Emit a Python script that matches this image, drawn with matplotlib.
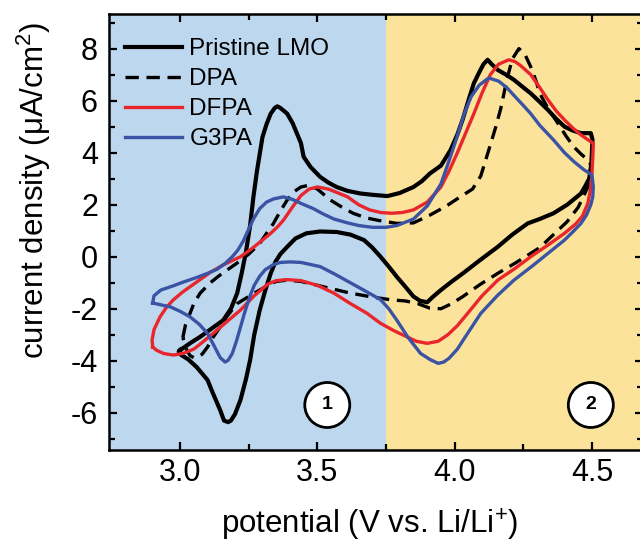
import matplotlib
matplotlib.use("Agg")
import matplotlib.pyplot as plt

plt.rcParams['font.family'] = ['Liberation Sans', 'DejaVu Sans']
plt.rcParams['mathtext.fontset'] = 'custom'
plt.rcParams['mathtext.rm'] = 'Liberation Sans'
plt.rcParams['mathtext.it'] = 'Liberation Sans:italic'

# ---------------- data ----------------
pristine_x = [3.00, 3.04, 3.073, 3.11, 3.157, 3.185, 3.208, 3.225, 3.24, 3.255, 3.267, 3.28, 3.30, 3.315,
              3.33, 3.345, 3.354, 3.365, 3.39, 3.41, 3.44, 3.45, 3.475, 3.51, 3.54, 3.57, 3.61, 3.657,
              3.70, 3.755, 3.80, 3.85, 3.88, 3.91, 3.95, 3.985, 4.01, 4.03, 4.05, 4.07, 4.09, 4.105,
              4.12, 4.135, 4.157, 4.19, 4.216, 4.245, 4.277, 4.31, 4.34, 4.37, 4.40, 4.43, 4.46, 4.496,
              4.502,
              4.498, 4.49, 4.475, 4.46, 4.41, 4.36, 4.31, 4.266, 4.21, 4.157, 4.09, 4.03, 3.99, 3.95,
              3.92, 3.90, 3.875, 3.85, 3.82, 3.79, 3.76, 3.73, 3.70, 3.67, 3.62, 3.57, 3.51, 3.46, 3.42,
              3.39, 3.365, 3.347, 3.33, 3.31, 3.29, 3.27, 3.255, 3.24, 3.22, 3.20, 3.185, 3.175, 3.16,
              3.146, 3.12, 3.10, 3.06, 3.03, 3.00, 2.995, 3.00]
pristine_y = [-3.59, -3.30, -3.08, -2.80, -2.44, -2.00, -1.40, -0.60, 0.20, 1.20, 2.30, 3.30, 4.60, 5.10,
              5.50, 5.72, 5.78, 5.72, 5.50, 5.13, 4.37, 3.84, 3.45, 3.07, 2.85, 2.68, 2.53, 2.43,
              2.38, 2.33, 2.45, 2.68, 2.90, 3.20, 3.50, 4.10, 4.70, 5.30, 6.00, 6.67, 7.10, 7.40,
              7.57, 7.40, 7.18, 6.98, 6.80, 6.55, 6.28, 5.95, 5.64, 5.30, 5.00, 4.85, 4.75, 4.75,
              4.50,
              3.60, 3.00, 2.70, 2.43, 2.00, 1.67, 1.45, 1.28, 0.85, 0.38, -0.15, -0.64, -0.95, -1.28,
              -1.55, -1.75, -1.70, -1.53, -1.15, -0.78, -0.38, 0.00, 0.35, 0.64, 0.85, 0.95, 0.97, 0.90, 0.70,
              0.38, 0.10, -0.20, -0.64, -1.30, -2.05, -3.00, -3.97, -4.70, -5.50, -6.05, -6.30, -6.36, -6.30,
              -5.90, -5.26, -4.74, -4.24, -3.95, -3.75, -3.65, -3.59]

dpa_x = [3.01, 3.02, 3.036, 3.05, 3.073, 3.11, 3.146, 3.208, 3.25, 3.29, 3.315, 3.34, 3.365, 3.39, 3.415,
         3.44, 3.47, 3.50, 3.547, 3.59, 3.63, 3.675, 3.72, 3.79, 3.85, 3.91, 3.97, 4.02, 4.065, 4.095,
         4.13, 4.15, 4.168, 4.19, 4.21, 4.234, 4.255, 4.277, 4.295, 4.31, 4.34, 4.376, 4.405, 4.434,
         4.46, 4.485, 4.498,
         4.495, 4.475, 4.45, 4.41, 4.36, 4.31, 4.277, 4.22, 4.157, 4.095, 4.03, 3.99, 3.95, 3.91,
         3.865, 3.82, 3.77, 3.70, 3.62, 3.56, 3.50, 3.44, 3.39, 3.35, 3.32, 3.27, 3.208, 3.17, 3.146,
         3.12, 3.10, 3.08, 3.066, 3.05, 3.036, 3.02, 3.01]
dpa_y = [-3.10, -2.60, -2.18, -1.80, -1.40, -1.00, -0.70, -0.24, 0.10, 0.51, 0.90, 1.28, 1.75, 2.18, 2.50,
         2.68, 2.75, 2.60, 2.18, 1.90, 1.67, 1.50, 1.40, 1.28, 1.30, 1.60, 1.95, 2.30, 2.60, 3.10,
         4.30, 5.00, 5.70, 6.80, 7.60, 8.00, 7.80, 7.30, 6.80, 6.28, 5.70, 5.13, 4.65, 4.22,
         3.95, 3.72, 3.50,
         2.90, 2.45, 1.90, 1.35, 0.85, 0.35, 0.13, -0.25, -0.64, -1.05, -1.53, -1.80, -2.00, -1.98,
         -1.80, -1.70, -1.66, -1.55, -1.40, -1.25, -1.10, -0.95, -0.90, -0.95, -1.10, -1.40, -1.80, -2.30, -2.70,
         -3.10, -3.47, -3.75, -3.85, -3.88, -3.80, -3.50, -3.10]

dfpa_x = [2.90, 2.898, 2.905, 2.927, 2.95, 2.975, 3.01, 3.05, 3.11, 3.16, 3.22, 3.26, 3.30, 3.33, 3.355,
          3.376, 3.41, 3.44, 3.47, 3.50, 3.54, 3.58, 3.61, 3.65, 3.69, 3.73, 3.77, 3.81, 3.85, 3.90,
          3.95, 3.98, 4.01, 4.04, 4.07, 4.10, 4.13, 4.16, 4.197, 4.22, 4.24, 4.277, 4.31, 4.34, 4.37,
          4.40, 4.43, 4.46, 4.485, 4.505,
          4.503, 4.50, 4.495, 4.485, 4.465, 4.44, 4.40, 4.34, 4.277, 4.22, 4.157, 4.10, 4.047, 4.01,
          3.975, 3.94, 3.90, 3.86, 3.83, 3.78, 3.73, 3.68, 3.62, 3.56, 3.50, 3.44, 3.39, 3.35, 3.32,
          3.27, 3.22, 3.17, 3.12, 3.08, 3.05, 3.01, 2.975, 2.94, 2.915, 2.90]
dfpa_y = [-3.47, -3.20, -2.80, -2.31, -1.95, -1.66, -1.35, -1.05, -0.60, -0.30, 0.00, 0.30, 0.64, 0.90, 1.15,
          1.40, 1.92, 2.35, 2.60, 2.68, 2.60, 2.43, 2.30, 2.00, 1.80, 1.70, 1.67, 1.70, 1.80, 2.10,
          2.68, 3.30, 4.00, 4.75, 5.50, 6.30, 7.00, 7.40, 7.57, 7.50, 7.35, 7.00, 6.50, 6.03, 5.60,
          5.26, 4.95, 4.68, 4.50, 4.36,
          3.80, 3.20, 2.60, 2.05, 1.55, 1.25, 0.90, 0.45, 0.00, -0.45, -0.90, -1.50, -2.18, -2.65,
          -3.00, -3.25, -3.33, -3.25, -3.10, -2.85, -2.56, -2.17, -1.80, -1.40, -1.10, -0.92, -0.88, -0.92, -1.05,
          -1.50, -2.05, -2.50, -2.95, -3.30, -3.55, -3.72, -3.78, -3.72, -3.60, -3.47]

g3pa_x = [2.90, 2.905, 2.93, 2.975, 3.01, 3.06, 3.10, 3.135, 3.165, 3.19, 3.21, 3.23, 3.245, 3.267, 3.29,
          3.315, 3.34, 3.376, 3.41, 3.44, 3.485, 3.52, 3.56, 3.61, 3.65, 3.70, 3.75, 3.79, 3.85, 3.90,
          3.95, 3.98, 4.01, 4.035, 4.06, 4.09, 4.124, 4.16, 4.19, 4.216, 4.247, 4.277, 4.31, 4.36,
          4.40, 4.435, 4.47, 4.50,
          4.505, 4.503, 4.496, 4.48, 4.46, 4.43, 4.40, 4.34, 4.28, 4.216, 4.155, 4.095, 4.05, 4.01,
          3.98, 3.96, 3.94, 3.91, 3.876, 3.83, 3.79, 3.76, 3.73, 3.68, 3.62, 3.56, 3.51, 3.44, 3.40,
          3.365, 3.34, 3.31, 3.29, 3.27, 3.255, 3.235, 3.22, 3.205, 3.19, 3.175, 3.164, 3.146, 3.125,
          3.10, 3.07, 3.036, 3.00, 2.965, 2.93, 2.90]
g3pa_y = [-1.78, -1.50, -1.28, -1.12, -0.98, -0.80, -0.64, -0.48, -0.25, 0.00, 0.25, 0.60, 0.95, 1.45, 1.85,
          2.10, 2.22, 2.30, 2.20, 2.05, 1.85, 1.65, 1.45, 1.30, 1.20, 1.13, 1.13, 1.20, 1.45, 1.95,
          2.80, 3.70, 4.65, 5.50, 6.15, 6.60, 6.87, 6.75, 6.50, 6.20, 5.85, 5.50, 5.05, 4.49,
          4.00, 3.65, 3.35, 3.14,
          2.70, 2.30, 2.00, 1.60, 1.28, 0.95, 0.64, 0.13, -0.38, -0.90, -1.50, -2.18, -2.90, -3.55,
          -3.90, -4.05, -4.10, -3.95, -3.72, -3.10, -2.45, -2.00, -1.65, -1.35, -1.00, -0.65, -0.38, -0.22, -0.20,
          -0.22, -0.30, -0.50, -0.75, -1.10, -1.50, -2.15, -2.70, -3.25, -3.72, -3.98, -4.05, -3.88, -3.45,
          -2.95, -2.60, -2.31, -2.10, -1.93, -1.85, -1.78]

series_labels = ["Pristine LMO", "DPA", "DFPA", "G3PA"]
region_labels = ["1", "2"]
region_boundary = 3.75

# ---------------- figure ----------------
W, H = 640, 542
fig = plt.figure(figsize=(W / 100, H / 100), dpi=100)
ax = fig.add_axes([109 / W, 92 / H, (643 - 109) / W, 436 / H])

xlim = (2.741, 4.686)
ylim = (-7.43, 9.33)
ax.axvspan(xlim[0], region_boundary, color="#BDD7EE", lw=0, zorder=0)
ax.axvspan(region_boundary, xlim[1], color="#FCE39C", lw=0, zorder=0)

ax.plot(pristine_x, pristine_y, color="black", lw=3.0, label=series_labels[0], zorder=3,
        solid_joinstyle="round")
ax.plot(dpa_x, dpa_y, color="black", lw=2.4, dashes=(4.0, 2.3), label=series_labels[1], zorder=3)
ax.plot(dfpa_x, dfpa_y, color="#E8262B", lw=2.4, label=series_labels[2], zorder=3,
        solid_joinstyle="round")
ax.plot(g3pa_x, g3pa_y, color="#3A53A4", lw=2.4, label=series_labels[3], zorder=3,
        solid_joinstyle="round")

ax.set_xlim(*xlim)
ax.set_ylim(*ylim)
ax.set_xticks([3.0, 3.5, 4.0, 4.5])
ax.set_xticks([3.25, 3.75, 4.25], minor=True)
ax.set_yticks([-6, -4, -2, 0, 2, 4, 6, 8])
ax.set_yticks([-7, -5, -3, -1, 1, 3, 5, 7, 9], minor=True)
ax.set_xticklabels(["3.0", "3.5", "4.0", "4.5"])
ax.set_yticklabels(["-6", "-4", "-2", "0", "2", "4", "6", "8"])
ax.tick_params(which="both", direction="in", top=True, right=True, width=1.6, labelsize=22)
ax.tick_params(axis="x", which="both", pad=6)
ax.tick_params(axis="y", which="both", pad=8)
ax.tick_params(which="major", length=6)
ax.tick_params(which="minor", length=4)
for s in ax.spines.values():
    s.set_linewidth(1.8)

fig.text(370 / W, 1 - 534 / H, "potential (V vs. Li/Li$^{+}$)", fontsize=22.5, ha="center", va="baseline")
fig.text(34 / W, 1 - 190 / H, "current density (μA/cm$^{2}$)", fontsize=22.5, ha="center", va="center",
         rotation=90)

leg = ax.legend(loc="upper left", bbox_to_anchor=(16 / 534, 1 - 24 / 436), frameon=False,
                fontsize=17.5, handlelength=2.35, handletextpad=0.3, labelspacing=0.33,
                borderpad=0, borderaxespad=0)

for lbl, xc in zip(region_labels, [3.536, 4.496]):
    ax.text(xc, -5.70, lbl, fontsize=14, fontweight="bold", ha="center", va="center", zorder=5,
            bbox=dict(boxstyle="circle,pad=0.72", fc="white", ec="black", lw=2.0))

fig.savefig("out.png", dpi=100)
